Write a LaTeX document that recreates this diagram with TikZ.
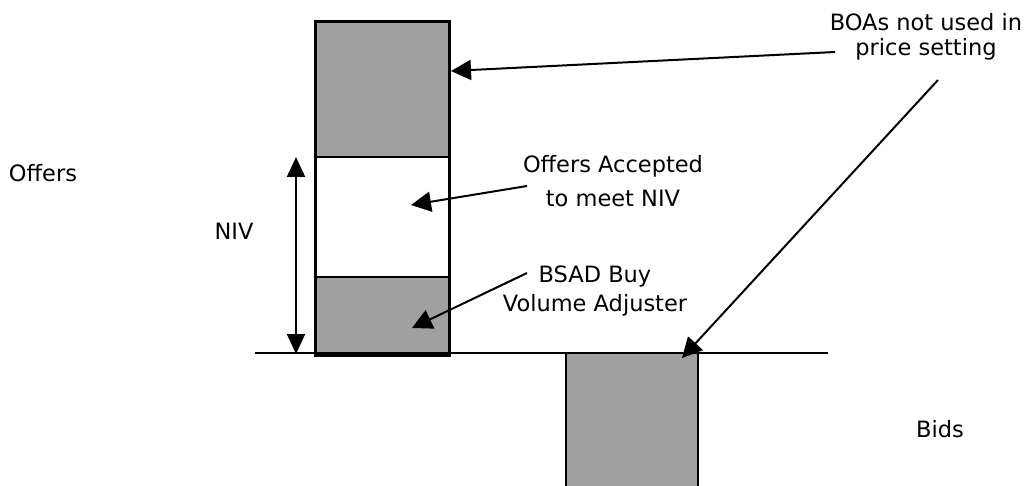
\documentclass[tikz,border=0pt]{standalone}
\usepackage{fontspec}
\setmainfont{DejaVu Sans}
\usetikzlibrary{arrows.meta}
\definecolor{boxgray}{HTML}{A0A0A0}
\tikzset{
  lbl/.style={font=\fontsize{22.5}{24}\selectfont, inner sep=0pt, anchor=base},
  grayblock/.style={draw=black, line width=2pt, fill=boxgray, inner sep=0pt},
  whiteblock/.style={draw=black, line width=2pt, fill=white, inner sep=0pt},
  pointer/.style={line width=2pt, -{Triangle[length=20pt,width=20pt]}},
  niv arrow/.style={line width=2pt, {Triangle[length=20pt,width=18pt]}-{Triangle[length=20pt,width=18pt]}},
  baseline rule/.style={line width=1.5pt},
}
\begin{document}
\begin{tikzpicture}[x=1pt,y=-1pt]
\clip (0,0) rectangle (1028,486);
\fill[white] (0,0) rectangle (1028,486);

% offer column
\node[whiteblock, minimum width=133pt, minimum height=333pt] (column) at (382.5,188.5) {};
\node[grayblock, minimum width=133pt, minimum height=135pt] (topbox) at (382.5,89.5) {};
\node[grayblock, minimum width=133pt, minimum height=78pt] (bsadbox) at (382.5,316) {};
\draw[line width=2pt] (column.south west) rectangle (column.north east);

% axis line
\coordinate (axisL) at (255,353);
\coordinate (axisR) at (828,353);
\draw[baseline rule] (axisL) -- (axisR);

% bids box
\node[grayblock, minimum width=132pt, minimum height=160pt] (bidbox) at (632,433) {};

% labels
\node[lbl] (offers) at (43,182) {Offers};
\node[lbl] (niv) at (234,240) {NIV};
\node[lbl] (bids) at (940,437) {Bids};
\node[lbl] (boa1) at (926,31) {BOAs not used in};
\node[lbl] (boa2) at (926,56) {price setting};
\node[lbl] (acc1) at (613,173) {Offers Accepted};
\node[lbl] (acc2) at (613,207) {to meet NIV};
\node[lbl] (bsad1) at (595,283) {BSAD Buy};
\node[lbl] (bsad2) at (595,312) {Volume Adjuster};

% NIV double arrow
\coordinate (nivTop) at (296,157);
\coordinate (nivBot) at (296,354);
\draw[niv arrow] (nivTop) -- (nivBot);

% pointers
\coordinate (s1) at (835,52);
\coordinate (t1) at (451,71);
\draw[pointer] (s1) -- (t1);
\coordinate (s2) at (938,80);
\coordinate (t2) at (682,358);
\draw[pointer] (s2) -- (t2);
\coordinate (s3) at (527,186);
\coordinate (t3) at (411,205);
\draw[pointer] (s3) -- (t3);
\coordinate (s4) at (527,273);
\coordinate (t4) at (412,328);
\draw[pointer] (s4) -- (t4);
\end{tikzpicture}
\end{document}
